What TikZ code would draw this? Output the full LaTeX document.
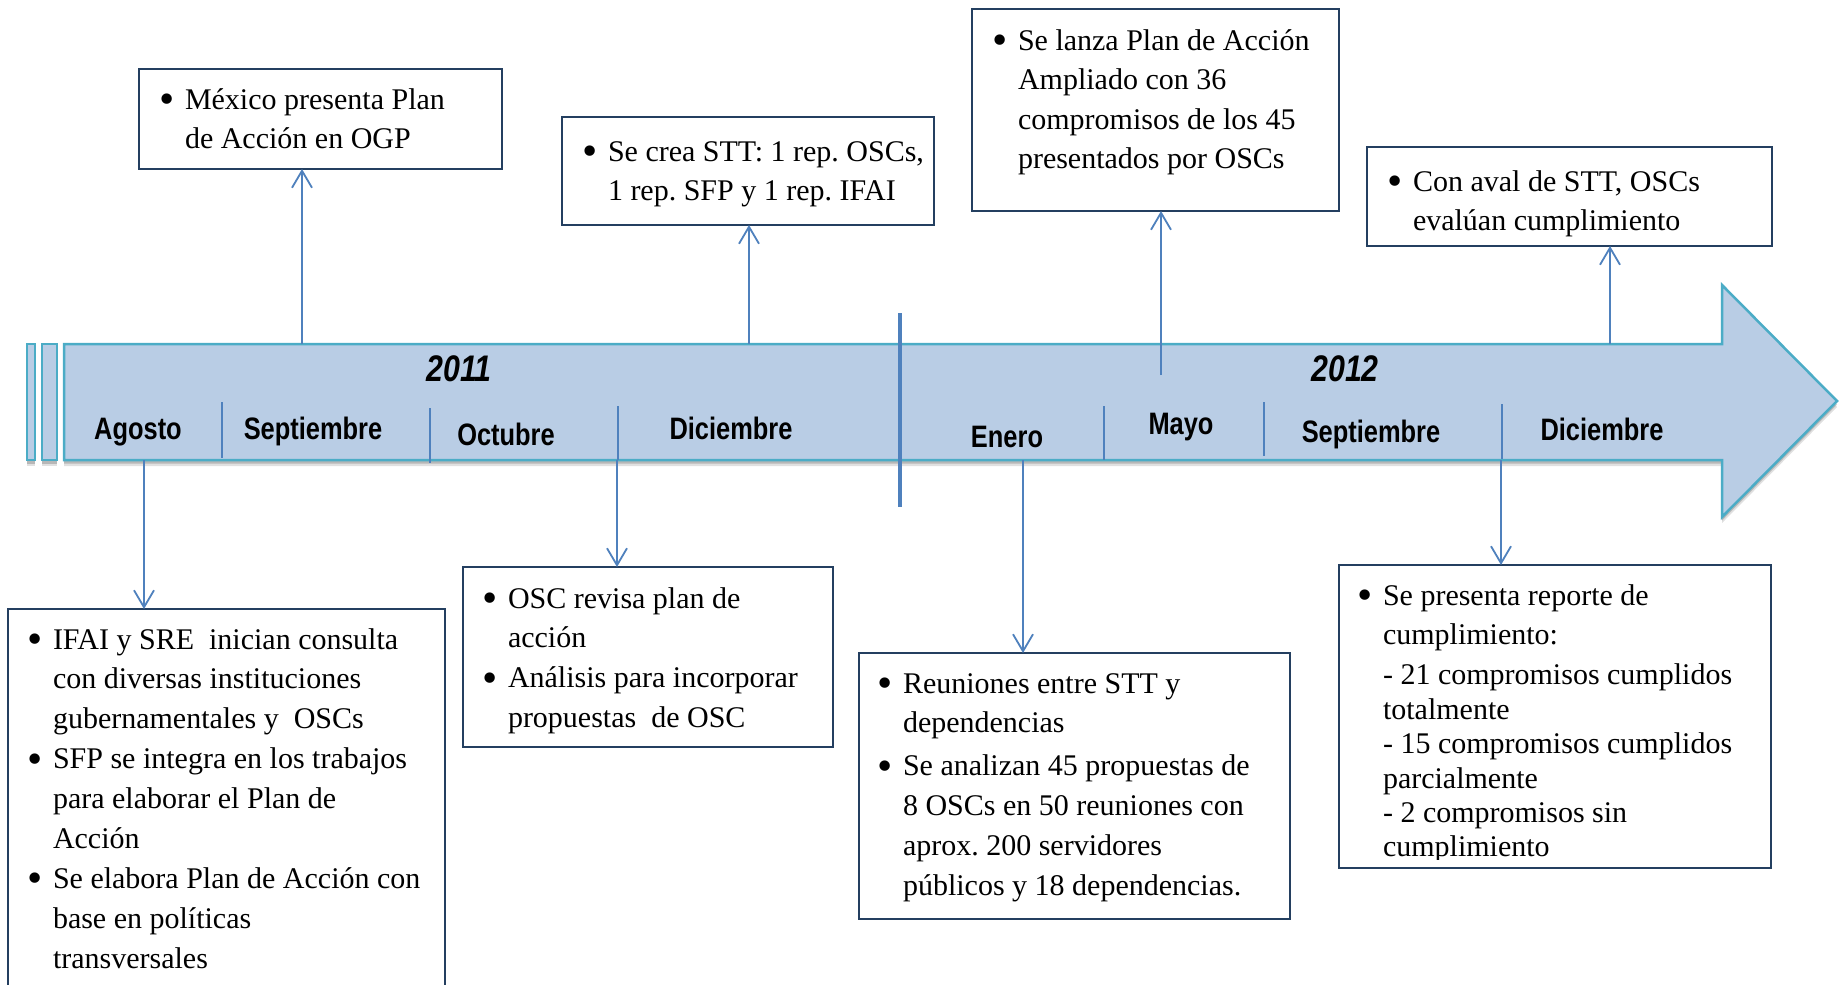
\documentclass[tikz,border=0pt]{standalone}
\usepackage{fontspec}
\setmainfont{Liberation Serif}
\newfontfamily\monthfont[FakeStretch=0.82]{Liberation Sans}
\usetikzlibrary{arrows.meta}
\definecolor{bodyfill}{HTML}{B9CDE5}
\definecolor{bodyline}{HTML}{4BACC6}
\definecolor{connc}{HTML}{4F81BD}
\definecolor{boxline}{HTML}{243F60}
\newcommand{\bul}{\llap{\makebox[36pt]{\raisebox{-4.5pt}{\scalebox{1.45}{\textbullet}}}}}
\frenchspacing
\begin{document}
\begin{tikzpicture}[x=1pt,y=-1pt,
  boxnode/.style={draw=boxline, line width=2pt, fill=white, inner sep=0pt, outer sep=0pt, anchor=north west},
  txt/.style={inner sep=0pt, outer sep=0pt, anchor=base west, font=\frenchspacing\fontsize{30}{39.9}\selectfont},
  month/.style={inner sep=0pt, outer sep=0pt, anchor=base, font=\monthfont\bfseries\fontsize{31}{37}\selectfont},
  year/.style={inner sep=0pt, outer sep=0pt, anchor=base, font=\monthfont\bfseries\itshape\fontsize{37}{44}\selectfont},
  conn/.style={draw=connc, line width=1.8pt, -{Straight Barb[length=17pt,width=20pt]}},
  sepline/.style={draw=connc, line width=1.8pt}]
\clip (0,0) rectangle (1839,985);
\fill[white] (0,0) rectangle (1839,985);

% shadow of the timeline arrow
\foreach \s/\o in {6/0.12,3.5/0.18}{
  \fill[black, opacity=\o] (64,344+\s) -- (1722,344+\s) -- (1722,285+\s) -- (1837,401+\s) -- (1722,517+\s) -- (1722,460+\s) -- (64,460+\s) -- cycle;
  \fill[black, opacity=\o] (27,344+\s) rectangle (35,460+\s);
  \fill[black, opacity=\o] (42,344+\s) rectangle (57,460+\s);
}
% timeline arrow body
\draw[fill=bodyfill, draw=bodyline, line width=2.5pt, line join=miter]
  (64,344) -- (1722,344) -- (1722,285) -- (1837,401) -- (1722,517) -- (1722,460) -- (64,460) -- cycle;
\draw[fill=bodyfill, draw=bodyline, line width=2.5pt] (27,344) rectangle (35,460);
\draw[fill=bodyfill, draw=bodyline, line width=2.5pt] (42,344) rectangle (57,460);

% month separators
\draw[sepline] (222,402) -- (222,458);
\draw[sepline] (430,408) -- (430,463);
\draw[sepline] (618,406) -- (618,460);
\draw[sepline] (1104,406) -- (1104,460);
\draw[sepline] (1264,402) -- (1264,456);
\draw[sepline] (1502,404) -- (1502,459);
% year divider
\draw[connc, line width=4pt] (900,313) -- (900,507);

% labels
\node[year] (y11) at (459,381) {2011};
\node[year] (y12) at (1345,381) {2012};
\node[month] (m1) at (138,439) {Agosto};
\node[month] (m2) at (313,439) {Septiembre};
\node[month] (m3) at (506,445) {Octubre};
\node[month] (m4) at (731,439) {Diciembre};
\node[month] (m5) at (1007,447) {Enero};
\node[month] (m6) at (1181,434) {Mayo};
\node[month] (m7) at (1371,442) {Septiembre};
\node[month] (m8) at (1602,440) {Diciembre};

% boxes
\node[boxnode, minimum width=363pt, minimum height=100pt] (b1) at (139,69) {};
\node[boxnode, minimum width=372pt, minimum height=108pt] (b2) at (562,117) {};
\node[boxnode, minimum width=367pt, minimum height=202pt] (b3) at (972,9) {};
\node[boxnode, minimum width=405pt, minimum height=99pt] (b4) at (1367,147) {};
\node[boxnode, minimum width=437pt, minimum height=400pt] (b5) at (8,609) {};
\node[boxnode, minimum width=370pt, minimum height=180pt] (b6) at (463,567) {};
\node[boxnode, minimum width=431pt, minimum height=266pt] (b7) at (859,653) {};
\node[boxnode, minimum width=432pt, minimum height=303pt] (b8) at (1339,565) {};

% texts
\node[txt] (t1) at (185,109) {\begin{tabular}[t]{@{}l@{}}\bul México presenta Plan\\ de Acción en OGP\end{tabular}};
\node[txt] (t2) at (608,161) {\begin{tabular}[t]{@{}l@{}}\bul Se crea STT: 1 rep. OSCs,\\ 1 rep. SFP y 1 rep. IFAI\end{tabular}};
\node[txt] (t3) at (1018,50) {\begin{tabular}[t]{@{}l@{}}\bul Se lanza Plan de Acción\\[-0.4pt] Ampliado con 36\\[-0.4pt] compromisos de los 45\\[-0.4pt] presentados por OSCs\end{tabular}};
\node[txt] (t4) at (1413,191) {\begin{tabular}[t]{@{}l@{}}\bul Con aval de STT, OSCs\\ evalúan cumplimiento\end{tabular}};
\node[txt] (t5) at (53,649) {\begin{tabular}[t]{@{}l@{}}\bul IFAI y SRE\ \ inician consulta\\ con diversas instituciones\\ gubernamentales y\ \ OSCs\\ \bul SFP se integra en los trabajos\\ para elaborar el Plan de\\ Acción\\ \bul Se elabora Plan de Acción con\\ base en políticas\\ transversales\end{tabular}};
\node[txt] (t6) at (508,608) {\begin{tabular}[t]{@{}l@{}}\bul OSC revisa plan de\\ acción\\ \bul Análisis para incorporar\\ propuestas\ \ de OSC\end{tabular}};
\node[txt] (t7) at (903,693) {\begin{tabular}[t]{@{}l@{}}\bul Reuniones entre STT y\\ dependencias\\[3pt] \bul Se analizan 45 propuestas de\\ 8 OSCs en 50 reuniones con\\ aprox. 200 servidores\\ públicos y 18 dependencias.\end{tabular}};
\begin{scope}
\clip (1340,566) rectangle (1770,859);
\node[txt] (t8) at (1383,605) {\begin{tabular}[t]{@{}l@{}}\bul Se presenta reporte de\\ cumplimiento:\\ - 21 compromisos cumplidos\\[-5.5pt] totalmente\\[-5.5pt] - 15 compromisos cumplidos\\[-5.5pt] parcialmente\\[-5.5pt] - 2 compromisos sin\\[-5.5pt] cumplimiento\end{tabular}};
\end{scope}

% connector anchor points on the timeline
\coordinate (u1) at (302,344);
\coordinate (u2) at (749,344);
\coordinate (u3) at (1161,375);
\coordinate (u4) at (1610,344);
\coordinate (d1) at (144,460);
\coordinate (d2) at (617,460);
\coordinate (d3) at (1023,460);
\coordinate (d4) at (1501,460);

\draw[conn] (u1) -- (u1 |- b1.south);
\draw[conn] (u2) -- (u2 |- b2.south);
\draw[conn] (u3) -- (u3 |- b3.south);
\draw[conn] (u4) -- (u4 |- b4.south);
\draw[conn] (d1) -- (d1 |- b5.north);
\draw[conn] (d2) -- (d2 |- b6.north);
\draw[conn] (d3) -- (d3 |- b7.north);
\draw[conn] (d4) -- (d4 |- b8.north);
\end{tikzpicture}
\end{document}
